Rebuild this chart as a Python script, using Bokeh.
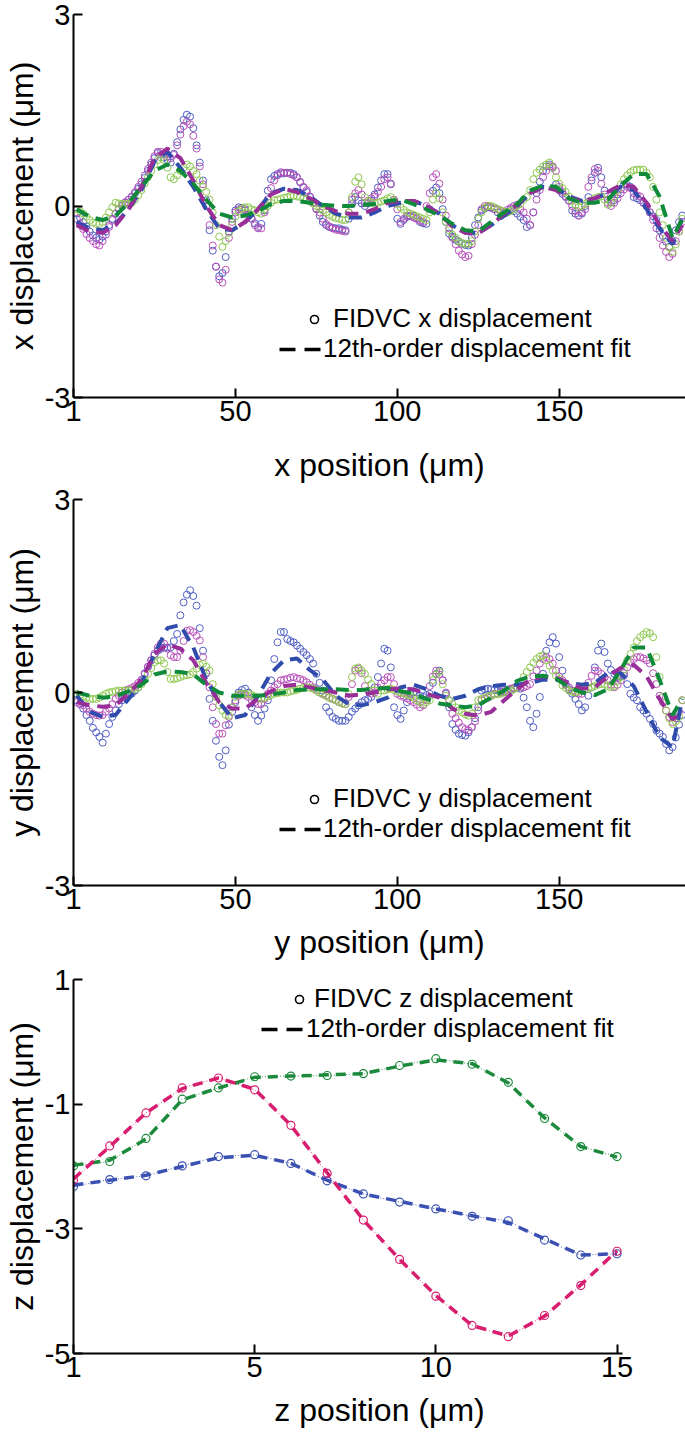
from bokeh.plotting import figure
from bokeh.models import Range1d, FixedTicker, Legend, LegendItem
from bokeh.layouts import column
from bokeh.embed import file_html
from bokeh.resources import INLINE

# ---------------- data ----------------
X = list(range(1, 189))
FX = [1, 5, 9, 13, 17, 21, 25, 29, 33, 37, 41, 45, 49, 53, 57, 61, 65, 69, 73, 77, 81, 85, 89, 93,
      97, 101, 105, 109, 113, 117, 121, 125, 129, 133, 137, 141, 145, 149, 153, 157, 161, 165, 169,
      173, 177, 181, 185, 188]

# x displacement (panel 1)
BX = [-0.12, -0.18, -0.25, -0.32, -0.40, -0.46, -0.50, -0.53, -0.48, -0.40,
      -0.30, -0.20, -0.12, -0.05, 0.00, 0.05, 0.10, 0.14, 0.20, 0.27,
      0.34, 0.44, 0.55, 0.65, 0.75, 0.83, 0.80, 0.76, 0.72, 0.68,
      0.82, 1.00, 1.20, 1.35, 1.43, 1.40, 1.22, 0.95, 0.68, 0.40,
      0.09, -0.38, -0.70, -0.95, -1.10, -1.05, -0.80, -0.40, -0.20, -0.07,
      -0.02, -0.03, -0.07, -0.13, -0.20, -0.27, -0.33, -0.28, -0.07, 0.24,
      0.42, 0.47, 0.50, 0.51, 0.51, 0.52, 0.52, 0.50, 0.45, 0.37,
      0.29, 0.22, 0.14, 0.05, -0.04, -0.15, -0.25, -0.30, -0.33, -0.34,
      -0.35, -0.35, -0.37, -0.38, -0.20, 0.03, 0.14, 0.09, 0.04, 0.00,
      0.04, 0.09, 0.18, 0.29, 0.40, 0.50, 0.50, 0.34, 0.05, -0.20,
      -0.28, -0.22, -0.17, -0.16, -0.15, -0.20, -0.25, -0.27, -0.28, -0.05,
      0.24, 0.29, 0.20, -0.05, -0.25, -0.43, -0.48, -0.53, -0.56, -0.59,
      -0.61, -0.62, -0.50, -0.30, -0.18, -0.07, -0.04, -0.02, -0.03, -0.05,
      -0.10, -0.15, -0.12, -0.10, -0.05, -0.08, -0.12, -0.17, -0.22, -0.33,
      -0.30, -0.10, 0.20, 0.38, 0.55, 0.62, 0.65, 0.60, 0.34, 0.25,
      0.19, 0.14, 0.09, -0.07, -0.12, -0.15, -0.12, 0.00, 0.14, 0.40,
      0.52, 0.60, 0.45, 0.24, 0.10, 0.06, 0.09, 0.18, 0.26, 0.34,
      0.33, 0.30, 0.14, 0.12, 0.09, 0.05, 0.00, -0.10, -0.16, -0.22,
      -0.38, -0.47, -0.56, -0.64, -0.55, -0.38, -0.25, -0.15]
MX = [-0.20, -0.28, -0.36, -0.44, -0.50, -0.55, -0.60, -0.62, -0.55, -0.45,
      -0.33, -0.22, -0.12, -0.04, 0.02, 0.06, 0.10, 0.15, 0.22, 0.30,
      0.38, 0.48, 0.58, 0.68, 0.78, 0.85, 0.85, 0.82, 0.78, 0.75,
      0.80, 0.95, 1.12, 1.25, 1.32, 1.28, 1.10, 0.90, 0.62, 0.34,
      0.00, -0.30, -0.62, -0.95, -1.15, -1.20, -1.00, -0.50, -0.25, -0.10,
      -0.05, -0.04, -0.05, -0.12, -0.20, -0.30, -0.35, -0.35, -0.10, 0.10,
      0.28, 0.40, 0.48, 0.53, 0.52, 0.52, 0.50, 0.48, 0.45, 0.38,
      0.30, 0.25, 0.15, 0.05, -0.05, -0.10, -0.20, -0.28, -0.32, -0.35,
      -0.37, -0.38, -0.39, -0.40, -0.10, 0.10, 0.20, 0.25, 0.18, 0.05,
      0.08, 0.12, 0.15, 0.22, 0.30, 0.42, 0.45, 0.35, 0.10, -0.05,
      -0.25, -0.20, -0.15, -0.15, -0.18, -0.20, -0.23, -0.25, 0.00, 0.20,
      0.45, 0.50, 0.35, 0.10, -0.15, -0.35, -0.50, -0.60, -0.70, -0.76,
      -0.80, -0.78, -0.60, -0.45, -0.30, -0.05, 0.00, 0.00, -0.02, -0.05,
      -0.05, -0.08, -0.10, -0.06, -0.03, 0.00, 0.02, -0.05, -0.10, -0.20,
      -0.30, -0.10, 0.10, 0.25, 0.45, 0.55, 0.62, 0.62, 0.55, 0.30,
      0.22, 0.15, 0.08, 0.00, -0.08, -0.15, -0.10, -0.05, 0.30, 0.45,
      0.58, 0.55, 0.35, 0.18, 0.05, 0.00, 0.05, 0.12, 0.20, 0.26,
      0.30, 0.28, 0.20, 0.17, 0.15, 0.05, 0.00, -0.10, -0.22, -0.35,
      -0.50, -0.62, -0.72, -0.80, -0.75, -0.55, -0.40, -0.25]
GX = [-0.05, -0.08, -0.12, -0.17, -0.22, -0.26, -0.28, -0.28, -0.25, -0.18,
      -0.10, -0.02, 0.05, 0.04, 0.03, 0.03, 0.03, 0.05, 0.10, 0.17,
      0.25, 0.35, 0.45, 0.55, 0.65, 0.72, 0.76, 0.72, 0.60, 0.45,
      0.42, 0.48, 0.55, 0.60, 0.65, 0.62, 0.55, 0.50, 0.40, 0.30,
      0.22, 0.10, -0.10, -0.30, -0.48, -0.64, -0.55, -0.42, -0.30, -0.17,
      -0.08, -0.04, -0.02, -0.02, -0.05, -0.07, -0.10, -0.12, -0.05, 0.00,
      0.05, 0.09, 0.10, 0.11, 0.13, 0.14, 0.16, 0.16, 0.15, 0.14,
      0.12, 0.10, 0.07, 0.04, 0.00, -0.04, -0.07, -0.10, -0.14, -0.17,
      -0.19, -0.20, -0.22, -0.22, -0.10, 0.14, 0.38, 0.45, 0.34, 0.14,
      0.08, 0.05, 0.04, 0.05, 0.07, 0.09, 0.12, 0.14, 0.08, 0.03,
      -0.02, -0.06, -0.10, -0.12, -0.14, -0.16, -0.18, -0.20, -0.22, -0.10,
      0.10, 0.20, 0.12, -0.10, -0.25, -0.38, -0.45, -0.50, -0.55, -0.58,
      -0.59, -0.59, -0.55, -0.40, -0.20, -0.10, -0.03, 0.00, 0.00, -0.02,
      -0.05, -0.07, -0.09, -0.10, -0.08, -0.05, 0.00, 0.03, 0.10, 0.14,
      0.25, 0.42, 0.52, 0.57, 0.62, 0.65, 0.68, 0.60, 0.45, 0.35,
      0.28, 0.22, 0.15, 0.08, 0.02, -0.02, 0.00, 0.03, 0.07, 0.09,
      0.12, 0.14, 0.15, 0.10, 0.02, 0.05, 0.14, 0.25, 0.34, 0.42,
      0.48, 0.53, 0.56, 0.57, 0.57, 0.57, 0.52, 0.45, 0.30, 0.10,
      -0.10, -0.30, -0.50, -0.65, -0.72, -0.60, -0.40, -0.20]
BXF = [-0.25, -0.35, -0.38, -0.28, -0.05, 0.25, 0.70, 0.85, 0.60, 0.30, -0.05, -0.35, -0.38, -0.25,
       -0.05, 0.20, 0.27, 0.25, 0.15, 0.00, -0.12, -0.18, -0.18, -0.10, 0.00, 0.05, 0.08, 0.00,
       -0.12, -0.30, -0.42, -0.42, -0.30, -0.15, 0.00, 0.20, 0.30, 0.28, 0.15, 0.08, 0.12, 0.20,
       0.30, 0.25, -0.05, -0.35, -0.60, -0.20]
MXF = [-0.30, -0.40, -0.42, -0.30, -0.05, 0.30, 0.75, 0.90, 0.75, 0.40, 0.00, -0.30, -0.38, -0.25,
       -0.05, 0.18, 0.27, 0.22, 0.12, 0.00, -0.08, -0.12, -0.12, -0.05, 0.05, 0.08, 0.08, 0.00,
       -0.12, -0.32, -0.42, -0.43, -0.30, -0.12, 0.02, 0.20, 0.30, 0.25, 0.12, 0.08, 0.12, 0.22,
       0.33, 0.30, 0.05, -0.30, -0.55, -0.30]
GXF = [-0.05, -0.17, -0.22, -0.15, 0.05, 0.30, 0.55, 0.65, 0.55, 0.35, 0.10, -0.12, -0.18, -0.15,
       -0.08, 0.03, 0.08, 0.08, 0.05, 0.02, 0.00, 0.00, 0.02, 0.03, 0.08, 0.10, 0.03, -0.05,
       -0.15, -0.28, -0.38, -0.40, -0.25, -0.10, 0.03, 0.24, 0.32, 0.30, 0.12, 0.05, 0.05, 0.10,
       0.32, 0.50, 0.50, 0.15, -0.50, -0.20]

# y displacement (panel 2)
BY = [-0.12, -0.18, -0.25, -0.35, -0.44, -0.55, -0.62, -0.69, -0.78, -0.64,
      -0.49, -0.38, -0.28, -0.18, -0.12, -0.07, -0.04, -0.02, 0.03, 0.08,
      0.18, 0.29, 0.40, 0.50, 0.58, 0.65, 0.68, 0.70, 0.70, 0.70,
      0.80, 0.91, 1.20, 1.40, 1.52, 1.59, 1.50, 1.35, 1.00, 0.65,
      0.30, -0.10, -0.44, -0.75, -1.00, -1.13, -0.90, -0.50, -0.30, -0.15,
      0.00, 0.04, 0.06, 0.00, -0.23, -0.35, -0.44, -0.36, -0.25, -0.12,
      0.19, 0.52, 0.78, 0.94, 0.94, 0.83, 0.80, 0.78, 0.73, 0.68,
      0.63, 0.58, 0.52, 0.45, 0.29, 0.15, 0.03, -0.23, -0.30, -0.38,
      -0.41, -0.44, -0.44, -0.44, -0.38, -0.30, -0.25, -0.20, -0.15, -0.12,
      -0.10, -0.07, 0.08, 0.24, 0.45, 0.68, 0.65, 0.39, -0.23, -0.35,
      -0.41, -0.28, -0.15, -0.02, 0.00, 0.00, -0.05, -0.07, -0.04, -0.02,
      0.15, 0.29, 0.34, 0.19, -0.02, -0.23, -0.49, -0.58, -0.64, -0.66,
      -0.67, -0.62, -0.54, -0.40, -0.23, 0.03, 0.05, 0.06, 0.05, 0.04,
      0.03, 0.02, 0.01, 0.00, 0.04, 0.07, 0.08, 0.06, -0.08, -0.23,
      -0.44, -0.54, -0.33, -0.07, 0.29, 0.65, 0.78, 0.86, 0.76, 0.55,
      0.34, 0.13, 0.05, -0.02, -0.10, -0.18, -0.28, -0.23, -0.05, 0.08,
      0.39, 0.65, 0.76, 0.63, 0.45, 0.35, 0.29, 0.24, 0.25, 0.26,
      0.13, -0.02, -0.08, -0.12, -0.23, -0.28, -0.33, -0.41, -0.49, -0.59,
      -0.64, -0.69, -0.80, -0.90, -0.85, -0.70, -0.50, -0.35]
MY = [-0.15, -0.18, -0.20, -0.25, -0.30, -0.33, -0.35, -0.36, -0.35, -0.30,
      -0.25, -0.18, -0.10, -0.05, 0.00, 0.03, 0.05, 0.07, 0.10, 0.15,
      0.20, 0.30, 0.40, 0.50, 0.60, 0.70, 0.76, 0.76, 0.68, 0.58,
      0.55, 0.55, 0.65, 0.80, 0.96, 0.97, 0.94, 0.88, 0.81, 0.55,
      0.30, 0.08, -0.23, -0.49, -0.64, -0.64, -0.51, -0.38, -0.23, -0.12,
      -0.05, -0.02, -0.04, -0.07, -0.12, -0.15, -0.18, -0.18, -0.10, -0.02,
      0.03, 0.08, 0.13, 0.19, 0.20, 0.21, 0.23, 0.24, 0.22, 0.21,
      0.19, 0.16, 0.12, 0.08, 0.04, 0.00, -0.02, -0.05, -0.08, -0.10,
      -0.12, -0.15, -0.17, -0.18, -0.07, 0.13, 0.34, 0.37, 0.30, 0.10,
      0.03, -0.02, 0.00, 0.08, 0.14, 0.19, 0.24, 0.24, 0.13, -0.02,
      -0.05, -0.07, -0.09, -0.12, -0.15, -0.19, -0.23, -0.20, -0.12, 0.10,
      0.25, 0.34, 0.28, 0.19, 0.00, -0.12, -0.33, -0.40, -0.47, -0.54,
      -0.57, -0.59, -0.54, -0.45, -0.28, -0.12, -0.10, -0.08, -0.05, -0.02,
      -0.02, 0.00, 0.02, 0.04, 0.06, 0.07, 0.08, 0.08, 0.08, 0.10,
      0.13, 0.25, 0.34, 0.45, 0.52, 0.55, 0.52, 0.45, 0.34, 0.25,
      0.19, 0.12, 0.08, 0.03, 0.00, -0.02, -0.02, 0.06, 0.15, 0.26,
      0.34, 0.33, 0.29, 0.23, 0.19, 0.12, 0.08, 0.12, 0.19, 0.30,
      0.39, 0.47, 0.52, 0.55, 0.55, 0.53, 0.50, 0.45, 0.30, 0.13,
      -0.05, -0.15, -0.28, -0.38, -0.46, -0.40, -0.30, -0.12]
GY = [-0.02, -0.04, -0.06, -0.08, -0.10, -0.10, -0.10, -0.08, -0.05, -0.02,
      0.00, 0.01, 0.02, 0.03, 0.03, 0.03, 0.03, 0.04, 0.05, 0.08,
      0.13, 0.20, 0.29, 0.38, 0.47, 0.50, 0.50, 0.45, 0.32, 0.21,
      0.21, 0.22, 0.24, 0.26, 0.27, 0.28, 0.32, 0.37, 0.43, 0.45,
      0.40, 0.34, 0.13, -0.07, -0.20, -0.28, -0.35, -0.36, -0.23, -0.07,
      -0.03, -0.02, -0.02, -0.02, -0.04, -0.06, -0.08, -0.10, -0.08, -0.06,
      -0.04, -0.02, -0.01, 0.00, 0.00, 0.00, 0.02, 0.03, 0.04, 0.06,
      0.07, 0.08, 0.07, 0.06, 0.03, 0.00, -0.03, -0.05, -0.08, -0.10,
      -0.12, -0.15, -0.17, -0.18, -0.02, 0.24, 0.37, 0.39, 0.34, 0.29,
      0.20, 0.13, 0.03, -0.02, 0.03, 0.03, 0.05, 0.06, 0.04, 0.02,
      0.00, -0.02, -0.03, -0.05, -0.08, -0.12, -0.15, -0.18, -0.15, -0.12,
      0.19, 0.28, 0.32, 0.13, -0.05, -0.12, -0.18, -0.23, -0.28, -0.31,
      -0.34, -0.36, -0.33, -0.23, -0.12, -0.10, -0.08, -0.06, -0.05, -0.03,
      -0.02, -0.02, 0.00, 0.00, 0.02, 0.05, 0.08, 0.15, 0.24, 0.32,
      0.39, 0.46, 0.52, 0.56, 0.58, 0.50, 0.42, 0.34, 0.26, 0.21,
      0.11, 0.07, 0.03, 0.01, 0.00, 0.02, 0.03, 0.05, 0.06, 0.08,
      0.10, 0.12, 0.13, 0.13, 0.10, 0.08, 0.10, 0.18, 0.24, 0.36,
      0.50, 0.60, 0.70, 0.80, 0.86, 0.90, 0.94, 0.92, 0.86, 0.55,
      0.24, -0.07, -0.28, -0.40, -0.49, -0.45, -0.38, -0.12]
BYF = [-0.05, -0.30, -0.38, -0.35, -0.10, 0.15, 0.60, 1.00, 1.05, 0.70, 0.20, -0.15, -0.40, -0.35,
       -0.05, 0.30, 0.50, 0.53, 0.35, 0.20, -0.05, -0.18, -0.20, -0.15, -0.08, 0.08, 0.12, 0.05,
       -0.05, -0.10, -0.05, 0.05, 0.10, 0.12, 0.12, 0.15, 0.20, 0.20, 0.15, 0.12, 0.15, 0.30,
       0.30, 0.10, -0.30, -0.70, -0.85, -0.10]
MYF = [-0.15, -0.20, -0.22, -0.20, -0.02, 0.20, 0.60, 0.75, 0.68, 0.50, 0.15, -0.15, -0.25, -0.25,
       -0.10, 0.02, 0.10, 0.12, 0.08, 0.04, 0.00, -0.05, -0.03, 0.00, 0.05, 0.06, 0.05, -0.02,
       -0.08, -0.25, -0.33, -0.36, -0.30, -0.12, 0.05, 0.20, 0.25, 0.23, 0.15, 0.06, 0.08, 0.25,
       0.38, 0.43, 0.25, -0.10, -0.42, -0.30]
GYF = [0.00, -0.05, -0.08, -0.06, 0.02, 0.12, 0.28, 0.33, 0.32, 0.28, 0.12, 0.00, -0.05, -0.05,
       -0.05, -0.03, 0.00, 0.04, 0.05, 0.05, 0.05, 0.04, 0.04, 0.06, 0.07, 0.02, -0.02, -0.10,
       -0.17, -0.20, -0.23, -0.20, -0.08, 0.03, 0.18, 0.25, 0.26, 0.22, 0.08, 0.00, -0.04, 0.05,
       0.35, 0.70, 0.70, 0.20, -0.35, -0.10]

# z displacement (panel 3)
Z = [0, 1, 2, 3, 4, 5, 6, 7, 8, 9, 10, 11, 12, 13, 14, 15]
BZ = [-2.32, -2.21, -2.15, -1.99, -1.84, -1.81, -1.95, -2.23, -2.44, -2.57, -2.68, -2.80, -2.87, -3.18, -3.42, -3.40]
GZ = [-1.99, -1.92, -1.55, -0.92, -0.74, -0.56, -0.55, -0.54, -0.51, -0.38, -0.27, -0.36, -0.65, -1.23, -1.68, -1.84]
PZ = [-2.22, -1.67, -1.14, -0.74, -0.58, -0.77, -1.34, -2.11, -2.86, -3.49, -4.08, -4.55, -4.73, -4.39, -3.91, -3.36]
BZF = [-2.30, -2.22, -2.14, -2.00, -1.86, -1.82, -1.95, -2.22, -2.44, -2.56, -2.68, -2.79, -2.90, -3.16, -3.42, -3.40]
GZF = [-1.98, -1.90, -1.56, -0.93, -0.74, -0.57, -0.55, -0.53, -0.51, -0.39, -0.29, -0.35, -0.66, -1.22, -1.68, -1.85]
PZF = [-2.20, -1.68, -1.14, -0.75, -0.58, -0.76, -1.34, -2.10, -2.86, -3.49, -4.07, -4.55, -4.72, -4.40, -3.90, -3.35]

XY_TICKS = [0, 50, 100, 150]
XY_TICK_LABELS = {0: "1"}
XY_YTICKS = [-3, 0, 3]
XY_YTICK_LABELS = {-3: "-3"}
Z_TICKS = [0, 5, 10, 15]
Z_TICK_LABELS = {0: "1"}
Z_YTICKS = [-5, -3, -1, 1]
Z_YTICK_LABELS = {-5: "-5", -3: "-3", -1: "-1"}

# ---------------- style ----------------
FONT = "Liberation Sans"
BLUE_C, MAG_C, GRN_C = "#4f5fc4", "#b84fba", "#8ec850"
BLUE_F, MAG_F, GRN_F = "#2f4cad", "#9a2e98", "#0f8a3b"
BLUE_Z, GRN_Z, PINK_Z = "#3a50b2", "#1c8a3c", "#d81c6e"
NAN = float("nan")


def make_fig(h, top, bottom, xr, yr, xticks, xover, yticks, yover, xlabel, ylabel, title_standoff):
    p = figure(width=685, height=h, x_range=Range1d(*xr), y_range=Range1d(*yr),
               output_backend="svg", toolbar_location=None,
               min_border_left=72, min_border_right=0, min_border_top=top, min_border_bottom=bottom)
    p.outline_line_color = None
    p.grid.visible = False
    for ax in (p.xaxis[0], p.yaxis[0]):
        ax.axis_line_width = 2
        ax.axis_line_color = "black"
        ax.major_tick_in = 9
        ax.major_tick_out = 0
        ax.major_tick_line_width = 2
        ax.major_tick_line_color = "black"
        ax.minor_tick_line_color = None
        ax.major_label_text_font = FONT
        ax.major_label_text_font_size = "29px"
        ax.major_label_text_color = "black"
        ax.axis_label_text_font = FONT
        ax.axis_label_text_font_size = "32px"
        ax.axis_label_text_font_style = "normal"
        ax.axis_label_text_color = "black"
        ax.major_label_standoff = 3
    p.xaxis.ticker = FixedTicker(ticks=xticks)
    p.xaxis.major_label_overrides = xover
    p.yaxis.ticker = FixedTicker(ticks=yticks)
    p.yaxis.major_label_overrides = yover
    p.xaxis.axis_label = xlabel
    p.yaxis.axis_label = ylabel
    p.xaxis.axis_label_standoff = title_standoff
    p.yaxis.axis_label_standoff = 2
    return p


def one_legend(p, label, renderer, loc, glyph_w, standoff):
    leg = Legend(items=[LegendItem(label=label, renderers=[renderer])], location=loc)
    leg.background_fill_alpha = 0
    leg.border_line_alpha = 0
    leg.padding = 0
    leg.margin = 0
    leg.spacing = 0
    leg.glyph_width = glyph_w
    leg.glyph_height = 30
    leg.label_height = 30
    leg.label_standoff = standoff
    leg.label_text_font = FONT
    leg.label_text_font_size = "26px"
    leg.label_text_color = "black"
    p.add_layout(leg)


def add_legends(p, lab, loc1, loc2, s1, s2):
    lc = p.scatter([NAN], [NAN], marker="circle", size=8, fill_color=None,
                   line_color="black", line_width=1.6)
    ll = p.line([NAN, NAN], [NAN, NAN], line_color="black", line_width=3.5, line_dash="16 9")
    one_legend(p, lab, lc, loc1, 20, s1)
    one_legend(p, "12th-order displacement fit", ll, loc2, 42, s2)


def xy_panel(p, b, m, g, bf, mf, gf):
    for vals, col in ((b, BLUE_C), (m, MAG_C), (g, GRN_C)):
        p.scatter(X, vals, marker="circle", size=7, fill_color=None, line_color=col, line_width=1.0)
    for vals, col in ((bf, BLUE_F), (mf, MAG_F), (gf, GRN_F)):
        p.line(FX, vals, line_color=col, line_width=4, line_dash="13 8")


p1 = make_fig(485, 14, 88, (0, 189), (-3, 3), XY_TICKS, XY_TICK_LABELS, XY_YTICKS, XY_YTICK_LABELS,
              "x position (\u03bcm)", "x displacement (\u03bcm)", 23)
xy_panel(p1, BX, MX, GX, BXF, MXF, GXF)
add_legends(p1, "FIDVC x displacement", (231, 63), (206, 33), 9, 2)

p2 = make_fig(480, 14, 80, (0, 189), (-3, 3), XY_TICKS, XY_TICK_LABELS, XY_YTICKS, XY_YTICK_LABELS,
              "y position (\u03bcm)", "y displacement (\u03bcm)", 12)
xy_panel(p2, BY, MY, GY, BYF, MYF, GYF)
add_legends(p2, "FIDVC y displacement", (231, 71), (206, 41), 9, 2)

p3 = make_fig(465, 14, 77, (0, 16.89), (-5, 1), Z_TICKS, Z_TICK_LABELS, Z_YTICKS, Z_YTICK_LABELS,
              "z position (\u03bcm)", "z displacement (\u03bcm)", 12)
p3.xaxis.bounds = (0, 15.15)
for vals, fit, col in ((BZ, BZF, BLUE_Z), (GZ, GZF, GRN_Z), (PZ, PZF, PINK_Z)):
    p3.line(Z, vals, line_color=col, line_width=1, line_dash="1 2", line_alpha=0.85)
    p3.line(Z, fit, line_color=col, line_width=3.5, line_dash="10 7")
    p3.scatter(Z, vals, marker="circle", size=8, fill_color=None, line_color=col, line_width=1.2)
add_legends(p3, "FIDVC z displacement", (216, 339), (188, 309), 5, 3)

layout = column(p1, p2, p3)
open("out.html", "w").write(file_html(layout, INLINE))
